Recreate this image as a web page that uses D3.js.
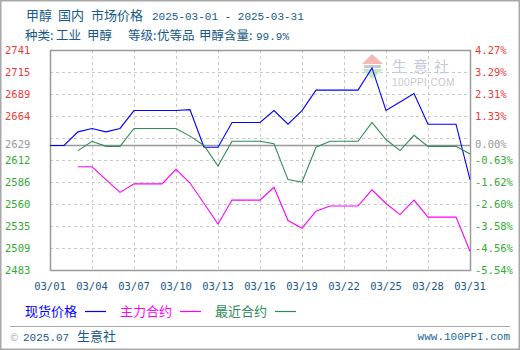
<!DOCTYPE html>
<html><head><meta charset="utf-8">
<script src="https://cdn.jsdelivr.net/npm/d3@7"></script>
<style>
html,body{margin:0;padding:0;background:#fff;}
svg{display:block;}
</style></head>
<body>
<svg id="c" width="520" height="350"></svg>
<script>
// ---- data ----
const days = d3.range(1, 32).map(d => "2025-03-" + String(d).padStart(2, "0"));
const spotPrice = [2629,2629,2645,2649,2645,2649,2670,2670,2670,2670,2671,2627,2627,2656,2656,2656,2670,2654,2670,2694,2694,2694,2694,2720,2670,2680,2690,2654,2654,2654,2589];
const mainContract = [null,null,2604,2604,2589,2574,2584,2584,2584,2601,2585,2561,2537,2565,2565,2565,2580,2541,2532,2552,2558,2558,2558,2577,2561,2548,2565,2545,2545,2545,2505];
const nearContract = [null,null,2623,2634,2628,2628,2649,2649,2649,2649,2640,2629,2605,2634,2634,2634,2631,2589,2586,2627,2634,2634,2634,2656,2636,2623,2641,2628,2628,2628,2619];
const baseValue = 2629;
const yMin = 2483, yMax = 2741;
const leftTicks = [2741,2715,2689,2664,2612,2586,2560,2535,2509,2483];
const rightTicks = ["4.27%","3.29%","2.31%","1.33%","-0.63%","-1.62%","-2.60%","-3.58%","-4.56%","-5.54%"];
const xTickLabels = ["03/01","03/04","03/07","03/10","03/13","03/16","03/19","03/22","03/25","03/28","03/31"];
const seriesNames = ["现货价格","主力合约","最近合约"];
const seriesColors = ["#0000ff","#ff00ff","#2e8b57"];
const titleParts = ["甲醇","国内","市场价格","2025-03-01 - 2025-03-31"];
const subtitleParts = ["种类:","工业","甲醇","等级:","优等品","甲醇含量:","99.9%"];

// ---- layout ----
const svg = d3.select("#c");
const L = 50, R = 470, T = 50, B = 270;
const parse = d3.utcParse("%Y-%m-%d");
const dates = days.map(parse);
const x = d3.scaleUtc().domain([dates[0], dates[dates.length-1]]).range([L, R]);
const y = d3.scaleLinear().domain([yMin, yMax]).range([B, T]);
const titleColor = "#17598a";
const cjk = "'Noto Sans CJK SC', sans-serif";
const mono = "'DejaVu Sans Mono', monospace";

// outer frame
svg.append("rect").attr("x",0.75).attr("y",0.75).attr("width",518.5).attr("height",348.5)
  .attr("fill","none").attr("stroke","#a8a8a8").attr("stroke-width",1.5);

// titles
const t1 = svg.append("text").attr("y",20).attr("font-family",cjk).attr("font-size",13).attr("fill",titleColor);
const t1x = [26,58,91,152];
titleParts.forEach((p,i) => {
  const ts = t1.append("tspan").attr("x",t1x[i]).attr("xml:space","preserve").text(p);
  if (i === 3) ts.attr("font-family","'Liberation Mono', monospace").attr("font-size",11);
});
const t2 = svg.append("text").attr("y",40).attr("font-family",cjk).attr("font-size",12.5).attr("fill",titleColor);
const t2x = [25,56,87,128,157,199,256];
subtitleParts.forEach((p,i) => {
  const ts = t2.append("tspan").attr("x",t2x[i]).text(p);
  if (i === 6) ts.attr("font-family","'Liberation Mono', monospace").attr("font-size",11);
});

// watermark
const wm = svg.append("g");
wm.append("path").attr("d", `M362,64 L372,54 L383,64 Z`).attr("fill","#f5b8b4");
wm.append("rect").attr("x",364).attr("y",65).attr("width",17).attr("height",3).attr("fill","#c9c9d4");
wm.append("path").attr("d", `M362,69 L383,69 L372,79 Z`).attr("fill","#bfe8c4");
wm.append("text").attr("x",392).attr("y",72).attr("font-family",cjk).attr("font-size",15)
  .attr("letter-spacing",6).attr("fill","#c4cbdc").text("生意社");
wm.append("text").attr("x",392).attr("y",86).attr("font-family","'Liberation Sans', sans-serif").attr("font-size",10)
  .attr("letter-spacing",0.4).attr("fill","#c8c8c8").text("100PPI.COM");

// grid
const gridVals = d3.range(11).map(i => yMin + i*(yMax-yMin)/10);
svg.append("g").selectAll("line").data(gridVals).join("line")
  .attr("x1",L).attr("x2",R).attr("y1",d=>Math.round(y(d))+0.5).attr("y2",d=>Math.round(y(d))+0.5)
  .attr("stroke","#c8c8c8").attr("stroke-dasharray","3,3");
const xTickDates = xTickLabels.map(s => parse("2025-" + s.replace("/","-")));
svg.append("g").selectAll("line").data(xTickDates).join("line")
  .attr("x1",d=>Math.round(x(d))+0.5).attr("x2",d=>Math.round(x(d))+0.5).attr("y1",T).attr("y2",B)
  .attr("stroke","#c8c8c8").attr("stroke-dasharray","3,3");

// frame of plot
svg.append("rect").attr("x",L+0.5).attr("y",T+0.5).attr("width",R-L).attr("height",B-T)
  .attr("fill","none").attr("stroke","#9a9a9a").attr("stroke-width",1.5);
// baseline
svg.append("line").attr("x1",L).attr("x2",R).attr("y1",y(baseValue)).attr("y2",y(baseValue))
  .attr("stroke","#999").attr("stroke-width",1.5);

// axis labels
const up = "#f03a3a", down = "#33aa33", base = "#999";
leftTicks.forEach((v,i) => {
  const c = v > baseValue ? up : down;
  svg.append("text").attr("x",5).attr("y",y(v)+4).attr("font-family",mono).attr("font-size",10.5)
    .attr("fill",c).text(v);
  svg.append("text").attr("x",475).attr("y",y(v)+4).attr("font-family",mono).attr("font-size",10.5)
    .attr("fill",c).text(rightTicks[i]);
});
svg.append("text").attr("x",5).attr("y",y(baseValue)+2).attr("font-family",mono).attr("font-size",10.5).attr("fill",base).text(baseValue);
svg.append("text").attr("x",475).attr("y",y(baseValue)+2).attr("font-family",mono).attr("font-size",10.5).attr("fill",base).text("0.00%");

// x axis labels
svg.append("g").selectAll("text").data(xTickLabels).join("text")
  .attr("x",(d,i)=>x(xTickDates[i])).attr("y",290).attr("text-anchor","middle")
  .attr("font-family",mono).attr("font-size",10.5).attr("fill",titleColor).text(d=>d);

// lines
const allSeries = [spotPrice, mainContract, nearContract];
const line = d3.line().defined(d=>d[1]!=null).x(d=>x(d[0])).y(d=>y(d[1]));
allSeries.forEach((s,k) => {
  svg.append("path").datum(s.map((v,i)=>[dates[i],v])).attr("d",line)
    .attr("fill","none").attr("stroke",seriesColors[k]).attr("stroke-width",1.1);
});

// legend
const legX = [25,120,215];
seriesNames.forEach((n,k) => {
  svg.append("text").attr("x",legX[k]).attr("y",316).attr("font-family",cjk).attr("font-size",13)
    .attr("fill",seriesColors[k]).text(n);
  svg.append("line").attr("x1",legX[k]+60).attr("x2",legX[k]+81).attr("y1",311.5).attr("y2",311.5)
    .attr("stroke",seriesColors[k]).attr("stroke-width",1.2);
});

// footer
svg.append("line").attr("x1",10).attr("x2",510).attr("y1",326.5).attr("y2",326.5).attr("stroke","#aaa");
const f = svg.append("text").attr("x",10).attr("y",341).attr("font-family",cjk).attr("font-size",13).attr("fill",titleColor);
f.append("tspan").attr("fill","#9ab").attr("font-size",10).text("©");
f.append("tspan").attr("x",23).attr("font-family","'Liberation Mono', monospace").attr("font-size",11).text("2025.07");
f.append("tspan").attr("x",77).text("生意社");
svg.append("text").attr("x",510).attr("y",340).attr("text-anchor","end").attr("font-family","'Liberation Mono', monospace")
  .attr("font-size",11).attr("fill","#1a6a9a").text("www.100PPI.com");
</script>
</body></html>
